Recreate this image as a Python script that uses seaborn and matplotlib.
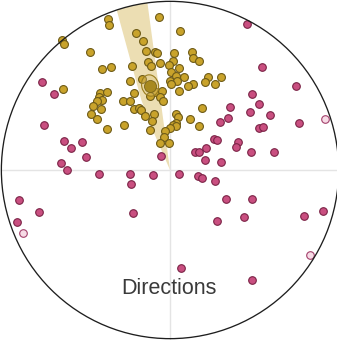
import numpy as np
import pandas as pd
import matplotlib
matplotlib.use("Agg")
import matplotlib.pyplot as plt
from matplotlib.patches import Circle, Ellipse, Polygon
import seaborn as sns

# Equal-area projection coordinates (east, north) of the measured directions
gold_x = [-0.065, -0.365, -0.359, 0.059, -0.201, -0.639, -0.629, -0.160, -0.475, -0.140,
          -0.087, -0.079, 0.024, 0.128, 0.134, 0.173, -0.130, 0.016, -0.059, -0.225,
          -0.114, -0.004, -0.401, -0.349, 0.051, 0.008, 0.085, 0.036, 0.225, 0.304,
          0.205, 0.268, -0.235, -0.166, 0.000, 0.041, 0.008, 0.134, 0.108, 0.055,
          -0.633, -0.414, -0.375, -0.422, -0.404, -0.432, -0.215, -0.085, -0.046, -0.118,
          -0.059, -0.043, -0.280, -0.238, -0.457, -0.408, -0.466, -0.430, -0.215, -0.182,
          -0.170, -0.096, -0.146, -0.105, 0.189, 0.034, 0.046, 0.120, 0.034, 0.170,
          -0.274, -0.371, -0.120, 0.018, 0.036, 0.002, -0.028, -0.034, -0.059, -0.008]
gold_y = [0.907, 0.893, 0.862, 0.827, 0.812, 0.773, 0.747, 0.767, 0.702, 0.708,
          0.702, 0.691, 0.692, 0.698, 0.663, 0.647, 0.643, 0.645, 0.633, 0.617,
          0.614, 0.623, 0.598, 0.611, 0.602, 0.584, 0.552, 0.556, 0.552, 0.552,
          0.522, 0.507, 0.528, 0.537, 0.527, 0.528, 0.507, 0.507, 0.497, 0.469,
          0.483, 0.457, 0.460, 0.434, 0.418, 0.410, 0.454, 0.460, 0.466, 0.436,
          0.432, 0.408, 0.408, 0.408, 0.379, 0.359, 0.333, 0.300, 0.359, 0.367,
          0.353, 0.333, 0.318, 0.288, 0.369, 0.330, 0.312, 0.300, 0.280, 0.262,
          0.268, 0.241, 0.238, 0.264, 0.259, 0.250, 0.233, 0.195, 0.158, 0.162]

pink_x = [0.457, 0.544, -0.759, -0.685, 0.747, 0.485, 0.528, 0.357, 0.473, 0.593,
          0.343, 0.294, 0.763, -0.750, 0.528, 0.554, -0.629, -0.519, -0.586, -0.499,
          -0.649, -0.609, 0.262, 0.276, 0.401, 0.389, 0.215, 0.150, 0.173, 0.478,
          0.614, 0.209, 0.304, -0.055, -0.424, -0.235, -0.229, -0.101, 0.055, 0.164,
          0.189, 0.264, -0.895, -0.777, -0.909, -0.221, 0.333, 0.485, 0.278, 0.438,
          0.797, 0.907, 0.063, 0.485]
pink_y = [0.868, 0.611, 0.519, 0.451, 0.497, 0.448, 0.389, 0.373, 0.343, 0.327,
          0.308, 0.284, 0.278, 0.266, 0.249, 0.253, 0.173, 0.167, 0.130, 0.075,
          0.043, -0.002, 0.183, 0.178, 0.164, 0.138, 0.130, 0.108, 0.108, 0.105,
          0.105, 0.059, 0.046, 0.083, -0.022, -0.025, -0.081, -0.031, -0.022, -0.037,
          -0.049, -0.065, -0.176, -0.250, -0.306, -0.254, -0.172, -0.172, -0.300, -0.276,
          -0.270, -0.241, -0.584, -0.653]

# Upper-hemisphere directions of the second set
upper_x = [0.921, -0.870, 0.828]
upper_y = [0.304, -0.375, -0.505]

# Mean direction of the first set and its confidence ellipse
mean_x, mean_y = -0.118, 0.501
ell_w, ell_h, ell_angle = 0.100, 0.128, 13

# Outline of the azimuthal confidence fan of the mean
fan_x = [0.000, -0.095, -0.170, -0.340, -0.140]
fan_y = [0.000, 0.219, 0.414, 1.036, 1.036]

label = "Directions"

gold_face, gold_edge = "#c9a32b", "#6e5b17"
pink_face, pink_edge = "#c94f80", "#7a2245"
upper_face, upper_edge = "#f7dbe6", "#a3406b"

sns.set_theme(style="white")
plt.rcParams["font.family"] = ["Liberation Sans", "DejaVu Sans"]

fig = plt.figure(figsize=(3.37, 3.40), dpi=100)
ax = fig.add_axes([0, 0, 1, 1])
ax.set_xlim(-1.008, 0.990)
ax.set_ylim(-1.008, 1.008)
ax.set_aspect("equal")
ax.axis("off")

# primitive circle and crosshair
rim = Circle((0, 0), 1.0, fill=False, edgecolor="#1e1e1e", linewidth=0.95, zorder=5)
ax.add_patch(rim)
ax.plot([-1, 1], [0, 0], color="#e4e4e4", lw=1.0, zorder=0)
ax.plot([0, 0], [-1, 1], color="#e4e4e4", lw=1.0, zorder=0)

fan = Polygon(np.column_stack([fan_x, fan_y]), closed=True,
              facecolor="#ecdeb3", edgecolor="none", zorder=1)
ax.add_patch(fan)
fan.set_clip_path(rim)

pink = pd.DataFrame({"x": pink_x, "y": pink_y})
gold = pd.DataFrame({"x": gold_x, "y": gold_y})
upper = pd.DataFrame({"x": upper_x, "y": upper_y})

sns.scatterplot(data=pink, x="x", y="y", ax=ax, s=30, color=pink_face,
                edgecolor=pink_edge, linewidth=0.8, zorder=3, legend=False)
sns.scatterplot(data=upper, x="x", y="y", ax=ax, s=30, color=upper_face,
                edgecolor=upper_edge, linewidth=0.8, zorder=3, legend=False)
sns.scatterplot(data=gold, x="x", y="y", ax=ax, s=32, color=gold_face,
                edgecolor=gold_edge, linewidth=0.8, zorder=3, legend=False)

ax.add_patch(Ellipse((mean_x, mean_y), ell_w, ell_h, angle=ell_angle,
                     facecolor=(0.85, 0.75, 0.45, 0.35), edgecolor="#9a7d1e",
                     linewidth=0.8, zorder=4))
sns.scatterplot(x=[mean_x], y=[mean_y], ax=ax, s=75, color="#a8891f",
                edgecolor="#7a6416", linewidth=0.6, zorder=4, legend=False)

ax.set_xlabel("")
ax.set_ylabel("")
ax.text(-0.006, -0.700, label, ha="center", va="center", fontsize=15.5,
        color="#3a3a3a", zorder=6)

fig.savefig("out.png", dpi=100, facecolor="white")
